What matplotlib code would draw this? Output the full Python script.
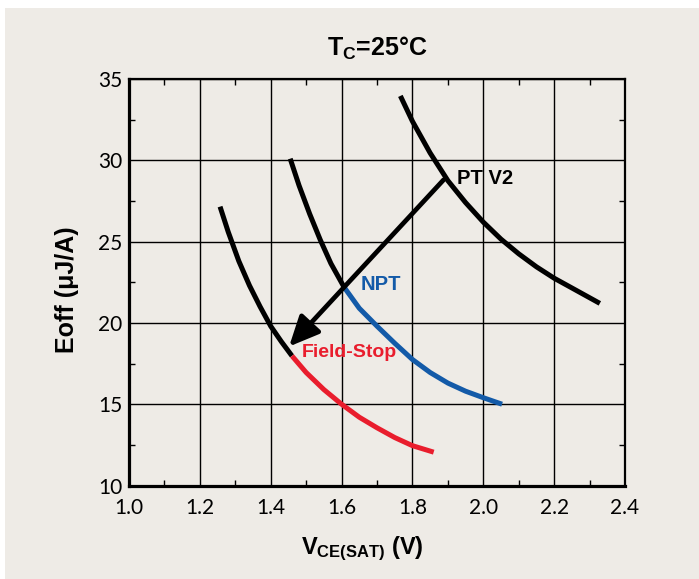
import matplotlib
matplotlib.use("Agg")
import matplotlib.pyplot as plt
from matplotlib.patches import Rectangle
from matplotlib.ticker import MultipleLocator

# ---- data: turn-off energy vs. saturation voltage at Tc = 25 C ----
fs_black_v = [1.257, 1.28, 1.31, 1.34, 1.37, 1.40, 1.43, 1.46]
fs_black_e = [27.15, 25.6, 23.8, 22.3, 21.0, 19.8, 18.85, 17.97]
fs_red_v = [1.46, 1.50, 1.55, 1.60, 1.65, 1.70, 1.75, 1.80, 1.86]
fs_red_e = [17.97, 16.95, 15.9, 15.0, 14.2, 13.55, 12.95, 12.45, 12.05]

npt_black_v = [1.455, 1.48, 1.51, 1.54, 1.57, 1.607]
npt_black_e = [30.1, 28.45, 26.7, 25.1, 23.65, 22.2]
npt_blue_v = [1.607, 1.65, 1.70, 1.75, 1.80, 1.85, 1.90, 1.95, 2.00, 2.053]
npt_blue_e = [22.2, 20.9, 19.8, 18.75, 17.75, 16.95, 16.3, 15.8, 15.4, 15.0]

pt_v = [1.766, 1.80, 1.85, 1.90, 1.95, 2.00, 2.05, 2.10, 2.15, 2.20, 2.25, 2.329]
pt_e = [33.96, 32.4, 30.45, 28.75, 27.4, 26.2, 25.15, 24.25, 23.45, 22.75, 22.15, 21.2]

arrow_start = (1.888, 28.8)
arrow_tip = (1.452, 18.55)

x_ticks = [1.0, 1.2, 1.4, 1.6, 1.8, 2.0, 2.2, 2.4]
y_ticks = [10, 15, 20, 25, 30, 35]

BG = "#eeebe6"
BLUE = "#135aa8"
RED = "#e91d2d"
BOLD_FONT = ["Liberation Sans", "DejaVu Sans"]
TICK_FONT = ["Lato", "DejaVu Sans"]

plt.rcParams["mathtext.fontset"] = "custom"
plt.rcParams["mathtext.rm"] = "Liberation Sans:bold"
plt.rcParams["mathtext.bf"] = "Liberation Sans:bold"
plt.rcParams["mathtext.it"] = "Liberation Sans:bold"

fig = plt.figure(figsize=(6.99, 5.79), dpi=100, facecolor="white")
fig.patches.append(Rectangle((5 / 699, 0), 1, 1 - 8 / 579, transform=fig.transFigure,
                             facecolor=BG, edgecolor="none", zorder=-10))

ax = fig.add_axes([129 / 699, 1 - 485.5 / 579, (625 - 129) / 699, (485.5 - 79) / 579])
ax.set_facecolor(BG)
ax.set_xlim(1.0, 2.4)
ax.set_ylim(10, 35)
ax.set_xticks(x_ticks)
ax.set_yticks(y_ticks)
ax.set_xticklabels([f"{t:.1f}" for t in x_ticks])
ax.set_yticklabels([str(t) for t in y_ticks])
ax.xaxis.set_minor_locator(MultipleLocator(0.1))
ax.yaxis.set_minor_locator(MultipleLocator(2.5))
ax.grid(True, which="major", color="black", lw=1.0)
ax.set_axisbelow(True)
ax.tick_params(which="major", length=0, pad=9, labelsize=15, labelcolor="black")
ax.tick_params(axis="y", which="major", pad=5)
ax.tick_params(which="minor", direction="in", length=4, width=1.0,
               top=True, right=True, color="black")
for lab in ax.get_xticklabels() + ax.get_yticklabels():
    lab.set_family(TICK_FONT)
    lab.set_weight("normal")
for side, w in (("left", 2.3), ("bottom", 2.3), ("top", 1.6), ("right", 1.6)):
    ax.spines[side].set_linewidth(w)
    ax.spines[side].set_color("black")

lw = 3.6
ax.plot(fs_black_v, fs_black_e, color="black", lw=lw, solid_capstyle="butt", zorder=3)
ax.plot(fs_red_v, fs_red_e, color=RED, lw=lw, solid_capstyle="butt", zorder=3)
ax.plot(npt_black_v, npt_black_e, color="black", lw=lw, solid_capstyle="butt", zorder=3)
ax.plot(npt_blue_v, npt_blue_e, color=BLUE, lw=lw, solid_capstyle="butt", zorder=3)
ax.plot(pt_v, pt_e, color="black", lw=lw, solid_capstyle="butt", zorder=3)

ax.annotate("", xy=arrow_tip, xytext=arrow_start,
            arrowprops=dict(arrowstyle="-|>,head_length=1.3,head_width=0.6",
                            lw=3.4, color="black", mutation_scale=14,
                            shrinkA=0, shrinkB=0), zorder=4)

ax.text(1.927, 28.9, "PT V2", color="black", fontsize=14.5, fontweight="bold",
        family=BOLD_FONT, ha="left", va="center")
ax.text(1.653, 22.34, "NPT", color=BLUE, fontsize=14.5, fontweight="bold",
        family=BOLD_FONT, ha="left", va="center")
ax.text(1.489, 18.16, "Field-Stop", color=RED, fontsize=14, fontweight="bold",
        family=BOLD_FONT, ha="left", va="center")

fig.text(377 / 699, 1 - 48 / 579, r"$\mathrm{T_C}$=25°C", fontsize=18,
         fontweight="bold", family=BOLD_FONT, ha="center", va="center")
fig.text(67 / 699, 1 - 290 / 579, "Eoff (μJ/A)", fontsize=18, fontweight="bold",
         family=BOLD_FONT, ha="center", va="center", rotation=90)
fig.text(362 / 699, 1 - 549 / 579, r"$\mathrm{V_{CE(SAT)}}$ (V)", fontsize=17,
         fontweight="bold", family=BOLD_FONT, ha="center", va="center")

fig.savefig("out.png", dpi=100, facecolor="white")
